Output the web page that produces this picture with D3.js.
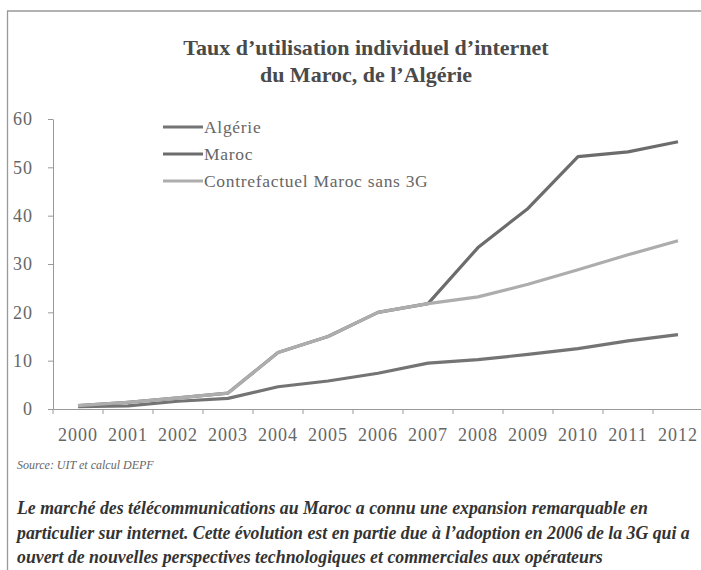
<!DOCTYPE html>
<html>
<head>
<meta charset="utf-8">
<script src="https://cdn.jsdelivr.net/npm/d3@7"></script>
<style>
  html, body { margin: 0; padding: 0; background: #ffffff; }
  svg { display: block; }
</style>
</head>
<body>
<svg id="chart" width="701" height="570"></svg>
<script>
const years = ["2000","2001","2002","2003","2004","2005","2006","2007","2008","2009","2010","2011","2012"];
const algerie = [0.5, 0.65, 1.6, 2.2, 4.6, 5.8, 7.4, 9.5, 10.2, 11.3, 12.5, 14.1, 15.4];
const maroc = [0.7, 1.4, 2.3, 3.3, 11.7, 15.0, 20.0, 21.8, 33.4, 41.5, 52.2, 53.2, 55.3];
const contrefactuel = [0.7, 1.4, 2.3, 3.3, 11.7, 15.0, 20.0, 21.8, 23.2, 25.8, 28.8, 31.9, 34.8];
const yTicks = [0, 10, 20, 30, 40, 50, 60];
const seriesNames = ["Algérie", "Maroc", "Contrefactuel Maroc sans 3G"];
const titleLines = ["Taux d\u2019utilisation individuel d\u2019internet", "du Maroc, de l\u2019Algérie"];
const sourceText = "Source: UIT et calcul DEPF";
const captionLines = [
  "Le marché des télécommunications au Maroc a connu une expansion remarquable en",
  "particulier sur internet. Cette évolution est en partie due à l\u2019adoption en 2006 de la 3G qui a",
  "ouvert de nouvelles perspectives technologiques et commerciales aux opérateurs"
];

const svg = d3.select("#chart");
const serif = "'Liberation Serif', 'Times New Roman', serif";

// frame
svg.append("line").attr("x1", 7).attr("x2", 701).attr("y1", 11).attr("y2", 11)
  .attr("stroke", "#999").attr("stroke-width", 1.3);
svg.append("line").attr("x1", 7.5).attr("x2", 7.5).attr("y1", 11).attr("y2", 570)
  .attr("stroke", "#999").attr("stroke-width", 1.3);

// title
svg.append("g").selectAll("text").data(titleLines).join("text")
  .attr("x", 366).attr("y", (d, i) => 55 + i * 27)
  .attr("text-anchor", "middle")
  .attr("font-family", serif).attr("font-size", 22).attr("font-weight", "bold")
  .attr("fill", "#4a4a4a")
  .text(d => d);

const x = d3.scaleBand().domain(years).range([53, 703]).paddingInner(0).paddingOuter(0);
const y = d3.scaleLinear().domain([0, 60]).range([409, 119]);
const cx = d => x(d) + x.bandwidth() / 2;

// y axis
const yAxis = svg.append("g").attr("transform", "translate(53,0)")
  .call(d3.axisLeft(y).tickValues(yTicks).tickSize(5).tickPadding(15).tickSizeOuter(0));
yAxis.attr("font-family", serif);
yAxis.select(".domain").attr("stroke", "#999");
yAxis.selectAll(".tick line").attr("stroke", "#999");
yAxis.selectAll("text").attr("font-family", serif).attr("font-size", 18)
  .attr("letter-spacing", 1).attr("fill", "#666");

// x axis
const xAxis = svg.append("g").attr("transform", "translate(0,409)")
  .call(d3.axisBottom(x).tickSize(0).tickPadding(19).tickSizeOuter(0));
xAxis.attr("font-family", serif);
xAxis.select(".domain").attr("stroke", "#999");
xAxis.selectAll("text").attr("font-family", serif).attr("font-size", 18)
  .attr("letter-spacing", 1).attr("fill", "#666");
svg.append("g").selectAll("line").data(years).join("line")
  .attr("x1", d => x(d)).attr("x2", d => x(d))
  .attr("y1", 409).attr("y2", 414).attr("stroke", "#999");

// lines
const line = d3.line().x((d, i) => cx(years[i])).y(d => y(d));
const series = [
  { name: seriesNames[0], values: algerie, color: "#747474" },
  { name: seriesNames[1], values: maroc, color: "#6c6c6c" },
  { name: seriesNames[2], values: contrefactuel, color: "#adadad" }
];
svg.append("g").selectAll("path").data(series).join("path")
  .attr("d", d => line(d.values))
  .attr("fill", "none").attr("stroke", d => d.color)
  .attr("stroke-width", 3.2).attr("stroke-linejoin", "round").attr("stroke-linecap", "butt");

// legend
const leg = svg.append("g").selectAll("g").data(series).join("g")
  .attr("transform", (d, i) => `translate(163,${127 + i * 27})`);
leg.append("line").attr("x1", 0).attr("x2", 40).attr("y1", 0).attr("y2", 0)
  .attr("stroke", d => d.color).attr("stroke-width", 3.2);
leg.append("text").attr("x", 41).attr("y", 5.5)
  .attr("font-family", serif).attr("font-size", 17.5).attr("letter-spacing", 0.7)
  .attr("fill", "#666")
  .text(d => d.name);

// source
svg.append("text").attr("x", 17).attr("y", 469)
  .attr("font-family", serif).attr("font-size", 12).attr("font-style", "italic")
  .attr("fill", "#666").text(sourceText);

// caption
svg.append("g").selectAll("text").data(captionLines).join("text")
  .attr("x", 17).attr("y", (d, i) => 514 + i * 24.5)
  .attr("font-family", serif).attr("font-size", 17.8)
  .attr("font-style", "italic").attr("font-weight", "bold")
  .attr("fill", "#333").text(d => d);
</script>
</body>
</html>
